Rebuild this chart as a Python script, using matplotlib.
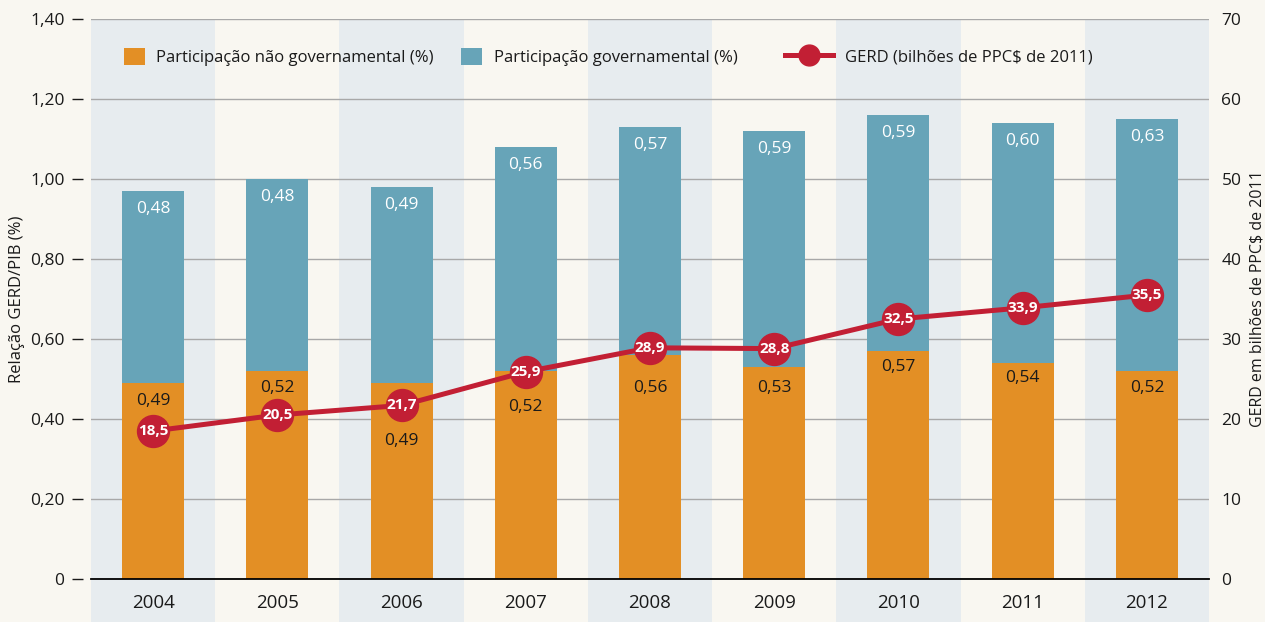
import matplotlib
matplotlib.use("Agg")
import matplotlib.pyplot as plt
from matplotlib.patches import Rectangle, Patch
from matplotlib.lines import Line2D

years = ["2004", "2005", "2006", "2007", "2008", "2009", "2010", "2011", "2012"]
nongov = [0.49, 0.52, 0.49, 0.52, 0.56, 0.53, 0.57, 0.54, 0.52]
gov = [0.48, 0.48, 0.49, 0.56, 0.57, 0.59, 0.59, 0.60, 0.63]
gerd = [18.5, 20.5, 21.7, 25.9, 28.9, 28.8, 32.5, 33.9, 35.5]
left_ticks = [0, 0.2, 0.4, 0.6, 0.8, 1.0, 1.2, 1.4]
left_ticklabels = ["0", "0,20", "0,40", "0,60", "0,80", "1,00", "1,20", "1,40"]
right_ticks = [0, 10, 20, 30, 40, 50, 60, 70]
# pixel offsets of the orange value labels below the top of the orange bar
orange_label_off = [18, 17, 58, 36, 33, 21, 16, 15, 17]

BG = "#F9F7F1"
SHADE = "#E7ECEF"
ORANGE = "#E38F25"
BLUE = "#67A4B8"
RED = "#C21F34"
TXT = "#1a1a1a"
FONT = ["Open Sans", "DejaVu Sans"]
NARROW = ["Liberation Sans Narrow", "Open Sans", "DejaVu Sans"]
plt.rcParams["font.family"] = FONT

W, H = 1265, 622
fig = plt.figure(figsize=(W / 100, H / 100), dpi=100, facecolor=BG)
L, R, T, B = 91, 1209, 19, 579
ax = fig.add_axes([L / W, 1 - B / H, (R - L) / W, (B - T) / H])
ax.set_facecolor(BG)
n = len(years)
x = list(range(n))
ax.set_xlim(-0.5, n - 0.5)
ax.set_ylim(0, 1.4)

# alternating shaded columns (extend below axis into label band)
ext = (H - B) / (B - T)
for i in range(0, n, 2):
    ax.add_patch(Rectangle((i - 0.5, -ext), 1, 1 + ext, transform=ax.get_xaxis_transform(),
                           facecolor=SHADE, edgecolor="none", zorder=0, clip_on=False))

ax.set_axisbelow(True)
ax.yaxis.grid(True, color="#A8A8A8", linewidth=1.0)
for s in ["top", "right"]:
    ax.spines[s].set_visible(False)
ax.spines["left"].set_position(("outward", 6))
ax.spines["left"].set_visible(False)
ax.spines["bottom"].set_color("black")
ax.spines["bottom"].set_linewidth(1.3)
ax.spines["bottom"].set_zorder(3)

ax.bar(x, nongov, width=0.5, color=ORANGE, zorder=2, label="Participação não governamental (%)")
ax.bar(x, gov, width=0.5, bottom=nongov, color=BLUE, zorder=2, label="Participação governamental (%)")

ax.set_yticks(left_ticks)
ax.set_yticklabels(left_ticklabels, fontsize=12.5, color=TXT)
ax.tick_params(axis="y", length=8, width=1.0, pad=5, color=TXT)
ax.set_xticks(x)
ax.set_xticklabels(years, fontsize=13.5, color=TXT)
ax.tick_params(axis="x", length=0, pad=11)
ax.set_ylabel("Relação GERD/PIB (%)", fontsize=12, labelpad=4, color=TXT)

for i in x:
    ax.annotate(f"{nongov[i]:.2f}".replace(".", ","), (i, nongov[i]), xytext=(0, -orange_label_off[i]),
                textcoords="offset pixels", ha="center", va="center", fontsize=12.5, color=TXT, zorder=4)
    top = nongov[i] + gov[i]
    ax.annotate(f"{gov[i]:.2f}".replace(".", ","), (i, top), xytext=(0, -18),
                textcoords="offset pixels", ha="center", va="center", fontsize=12.5, color="white", zorder=4)

ax2 = ax.twinx()
ax2.set_ylim(0, 70)
ax2.set_yticks(right_ticks)
ax2.set_yticklabels([str(v) for v in right_ticks], fontsize=12.5, color=TXT)
ax2.tick_params(axis="y", length=0, pad=9)
for s in ax2.spines.values():
    s.set_visible(False)
ax2.plot(x, gerd, color=RED, linewidth=3.6, marker="o", markersize=23, solid_capstyle="butt",
         label="GERD (bilhões de PPC$ de 2011)", zorder=3)
for i in x:
    ax2.text(i, gerd[i], f"{gerd[i]:.1f}".replace(".", ","), ha="center", va="center",
             fontsize=11, fontweight="bold", color="white", zorder=5, family=NARROW)
ax2.set_ylabel("GERD em bilhões de PPC$ de 2011", fontsize=11.5, labelpad=6, color=TXT)

# legends
fs = 12
h1 = Patch(facecolor=ORANGE, edgecolor="none")
h2 = Patch(facecolor=BLUE, edgecolor="none")
h3 = Line2D([], [], color=RED, linewidth=3.6, marker="o", markersize=15)
common = dict(frameon=False, fontsize=fs, borderpad=0, borderaxespad=0, loc="center left",
              bbox_transform=fig.transFigure, labelcolor=TXT)
ly = 1 - 57 / H
leg1 = ax2.legend([h1], ["Participação não governamental (%)"], bbox_to_anchor=(124 / W, ly),
                  handlelength=1.25, handleheight=1.25, handletextpad=0.7, **common)
ax2.add_artist(leg1)
leg2 = ax2.legend([h2], ["Participação governamental (%)"], bbox_to_anchor=(461 / W, ly),
                  handlelength=1.25, handleheight=1.25, handletextpad=0.7, **common)
ax2.add_artist(leg2)
leg3 = ax2.legend([h3], ["GERD (bilhões de PPC$ de 2011)"], bbox_to_anchor=(785 / W, ly),
                  handlelength=2.9, handletextpad=0.7, **common)

fig.savefig("out.png", dpi=100, facecolor=BG)
